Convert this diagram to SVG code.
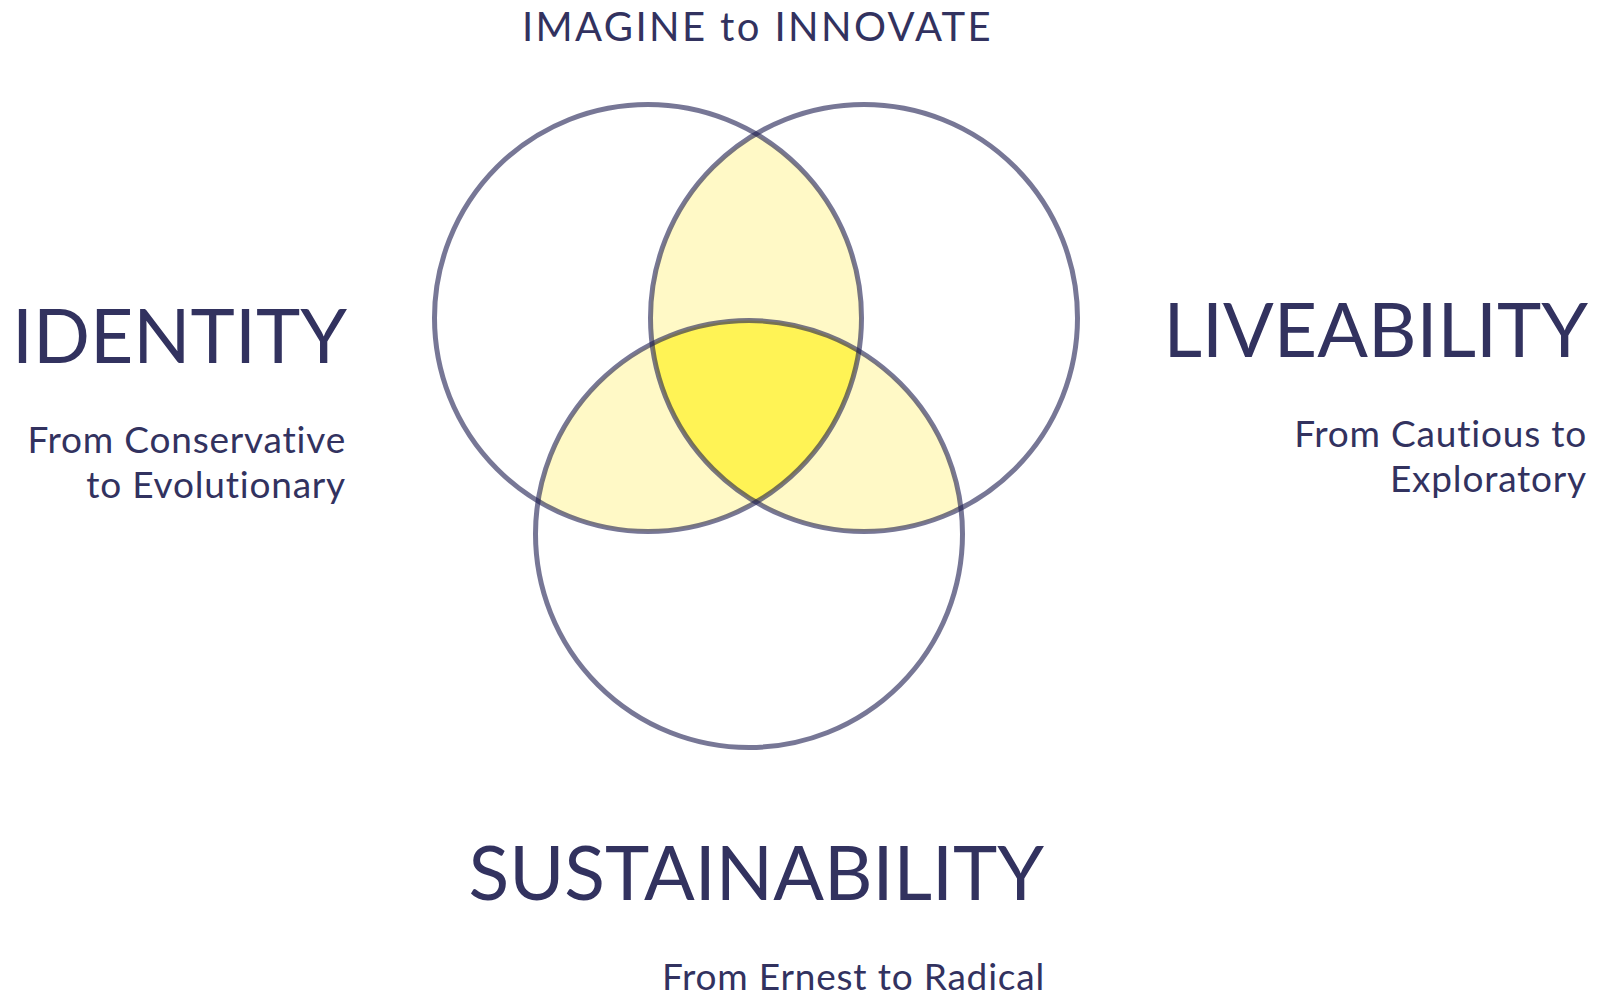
<svg xmlns="http://www.w3.org/2000/svg" width="1603" height="995" viewBox="0 0 1603 995">
<style>
.t{font-family:Lato,"Noto Sans","Liberation Sans",sans-serif;fill:#32325f;font-variant-ligatures:none}
.big{font-size:75px}
.sub{font-size:37px;letter-spacing:0.8px}
.ring{fill:none;stroke:#1c1c50;stroke-opacity:0.6;stroke-width:5}
</style>
<defs>
<clipPath id="cA"><circle cx="648" cy="318" r="213.5"/></clipPath>
<clipPath id="cB"><circle cx="864" cy="318" r="213.5"/></clipPath>
<clipPath id="cC"><circle cx="749" cy="534" r="213.5"/></clipPath>
</defs>
<rect width="1603" height="995" fill="#ffffff"/>
<g id="overlaps">
<g clip-path="url(#cA)"><circle cx="864" cy="318" r="213.5" fill="#fff9c6"/><circle cx="749" cy="534" r="213.5" fill="#fff9c6"/></g>
<g clip-path="url(#cB)"><circle cx="749" cy="534" r="213.5" fill="#fff9c6"/></g>
<g clip-path="url(#cA)"><g clip-path="url(#cB)"><circle cx="749" cy="534" r="213.5" fill="#fff355"/></g></g>
</g>
<g id="identity-circle"><circle class="ring" cx="648" cy="318" r="213.5"/></g>
<g id="liveability-circle"><circle class="ring" cx="864" cy="318" r="213.5"/></g>
<g id="sustainability-circle"><circle class="ring" cx="749" cy="534" r="213.5"/></g>
<g id="connectors"></g>
<g id="title"><text class="t" x="757.5" y="41" font-size="40" letter-spacing="2.4" text-anchor="middle">IMAGINE to INNOVATE</text></g>
<g id="identity-label">
<text class="t big" x="347" y="363" text-anchor="end">IDENTITY</text>
<text class="t sub" x="346" y="453" text-anchor="end">From Conservative</text>
<text class="t sub" x="346" y="498" text-anchor="end">to Evolutionary</text>
</g>
<g id="liveability-label">
<text class="t big" x="1588" y="357" text-anchor="end">LIVEABILITY</text>
<text class="t sub" x="1587" y="447" text-anchor="end">From Cautious to</text>
<text class="t sub" x="1587" y="492" text-anchor="end">Exploratory</text>
</g>
<g id="sustainability-label">
<text class="t big" x="1044" y="900" text-anchor="end">SUSTAINABILITY</text>
<text class="t sub" x="1045" y="990" letter-spacing="1" text-anchor="end">From Ernest to Radical</text>
</g>
</svg>
